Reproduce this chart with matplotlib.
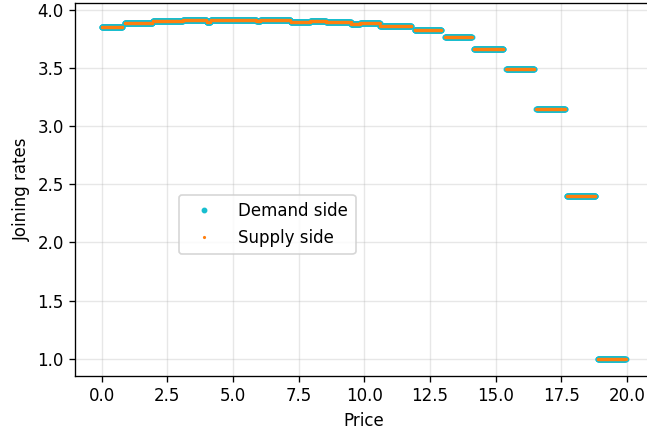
import numpy as np
import matplotlib
matplotlib.use("Agg")
import matplotlib.pyplot as plt

# Piecewise-constant joining rates (price intervals and levels)
seg_start = [0.00, 0.88, 1.95, 3.10, 4.00, 4.15, 5.90, 6.05, 7.20, 7.95, 8.55, 9.50, 9.85,
             10.60, 11.92, 13.08, 14.18, 15.41, 16.56, 17.72, 18.90]
seg_end = [0.80, 1.95, 3.10, 4.00, 4.15, 5.90, 6.05, 7.20, 7.95, 8.55, 9.50, 9.85, 10.60,
           11.80, 12.94, 14.10, 15.30, 16.47, 17.65, 18.81, 19.96]
demand_rate = [3.850, 3.888, 3.901, 3.914, 3.898, 3.916, 3.905, 3.914, 3.893, 3.906, 3.893,
               3.879, 3.888, 3.859, 3.824, 3.766, 3.665, 3.488, 3.145, 2.397, 1.000]
supply_rate = [3.850, 3.888, 3.901, 3.914, 3.898, 3.916, 3.905, 3.914, 3.893, 3.906, 3.893,
               3.879, 3.888, 3.859, 3.824, 3.766, 3.665, 3.488, 3.145, 2.397, 1.000]

price_grid = np.round(np.arange(0.0, 20.0001, 0.01), 2)

def expand(levels):
    xs, ys = [], []
    for a, b, v in zip(seg_start, seg_end, levels):
        m = (price_grid >= a) & (price_grid < b)
        xs.append(price_grid[m])
        ys.append(np.full(m.sum(), v))
    return np.concatenate(xs), np.concatenate(ys)

dx, dy = expand(demand_rate)
sx, sy = expand(supply_rate)

DPI = 120
fig = plt.figure(figsize=(647 / DPI, 431 / DPI), dpi=DPI)
ax = fig.add_axes([0.1164, 0.1283, 0.8909, 0.8654])

ax.plot(dx, dy, '.', color='#17becf', markersize=5, label='Demand side')
ax.plot(sx, sy, '.', color='#ff7f0e', markersize=1.8, label='Supply side')

ax.grid(True, color='#b0b0b0', alpha=0.3)
ax.set_axisbelow(True)
ax.set_xlabel('Price')
ax.set_ylabel('Joining rates')
ax.legend(loc='lower left', bbox_to_anchor=(0.18, 0.326), borderaxespad=0,
          handlelength=2.1, handletextpad=1.0, borderpad=0.45)

fig.savefig('out.png', dpi=DPI)
